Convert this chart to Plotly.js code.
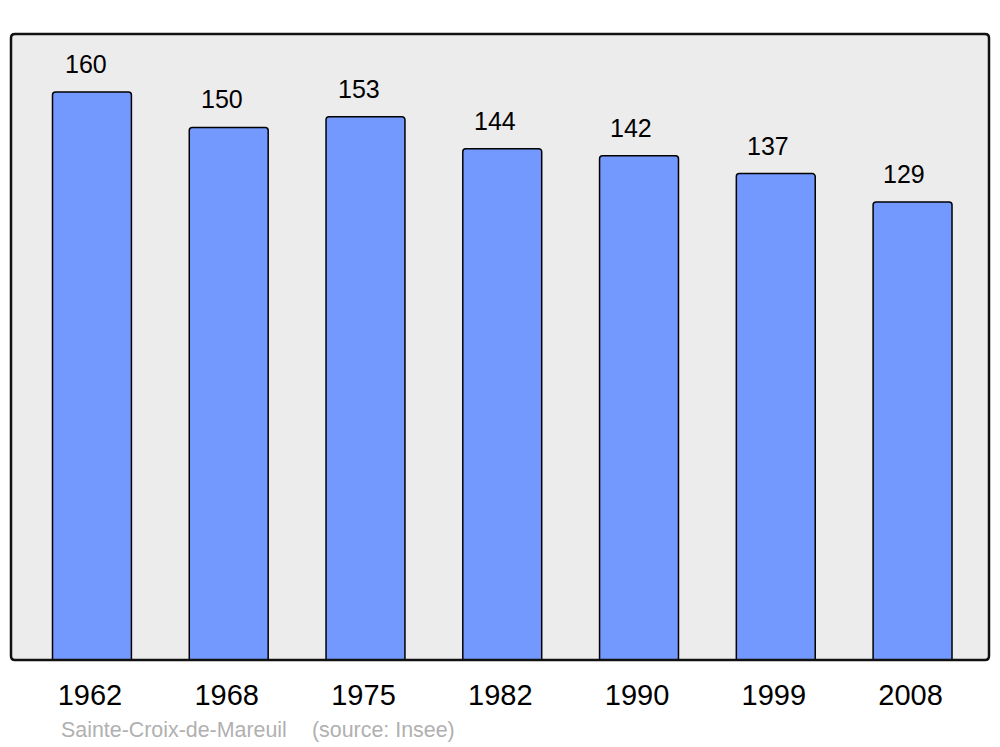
<!DOCTYPE html>
<html>
<head>
<meta charset="utf-8">
<script src="https://cdn.plot.ly/plotly-3.0.1.min.js"></script>
<style>html,body{margin:0;padding:0;background:#fff;}#chart{width:1000px;height:747px;}</style>
</head>
<body>
<div id="chart"></div>
<script>
const years = ["1962", "1968", "1975", "1982", "1990", "1999", "2008"];
const population = [160, 150, 153, 144, 142, 137, 129];
const placeName = "Sainte-Croix-de-Mareuil";
const sourceText = "(source: Insee)";

const W = 978, H = 626, r = 4;
const rx = r / W, ry = r / H;
const borderPath = `M ${rx},0 L ${1-rx},0 Q 1,0 1,${ry} L 1,${1-ry} Q 1,1 ${1-rx},1 L ${rx},1 Q 0,1 0,${1-ry} L 0,${ry} Q 0,0 ${rx},0 Z`;

const trace = {
  type: 'bar',
  x: years,
  y: population,
  width: 0.577,
  marker: { color: '#7399ff', line: { color: '#000', width: 1.5 }, cornerradius: 3 },
  hoverinfo: 'skip'
};

const annotations = years.map((yr, i) => ({
  x: i, y: population[i], xref: 'x', yref: 'y',
  text: String(population[i]), showarrow: false,
  yanchor: 'bottom', yshift: 12, xshift: -6 - i * 0.4,
  font: { family: 'Liberation Sans, Arial, sans-serif', size: 25, color: '#000' }
}));
annotations.push({
  xref: 'paper', yref: 'paper', x: (61 - 11) / W, y: (660 - 730) / H,
  xanchor: 'left', yanchor: 'middle', showarrow: false, text: placeName, xshift: -2,
  font: { family: 'Liberation Sans, Arial, sans-serif', size: 21.4, color: '#b0b0b0' }
});
annotations.push({
  xref: 'paper', yref: 'paper', x: (312 - 11) / W, y: (660 - 730) / H,
  xanchor: 'left', yanchor: 'middle', showarrow: false, text: sourceText, xshift: -2,
  font: { family: 'Liberation Sans, Arial, sans-serif', size: 21.4, color: '#b0b0b0' }
});

const layout = {
  width: 1000, height: 747,
  margin: { l: 11, r: 11, t: 34, b: 87, pad: 0 },
  paper_bgcolor: '#ffffff',
  plot_bgcolor: '#ececec',
  showlegend: false,
  xaxis: {
    type: 'category', range: [-0.592, 6.559], showgrid: false, zeroline: false,
    showline: false, ticks: '', ticklabelstandoff: 15, ticklabelshift: -2,
    tickfont: { family: 'Liberation Sans, Arial, sans-serif', size: 29, color: '#000' },
    fixedrange: true
  },
  yaxis: {
    range: [0, 176.3], showgrid: false, zeroline: false, showline: false,
    showticklabels: false, ticks: '', fixedrange: true
  },
  shapes: [{
    type: 'path', xref: 'paper', yref: 'paper', path: borderPath,
    line: { color: '#111', width: 2.5 }, layer: 'above'
  }],
  annotations: annotations
};

Plotly.newPlot('chart', [trace], layout, { staticPlot: true, displayModeBar: false });
</script>
</body>
</html>
